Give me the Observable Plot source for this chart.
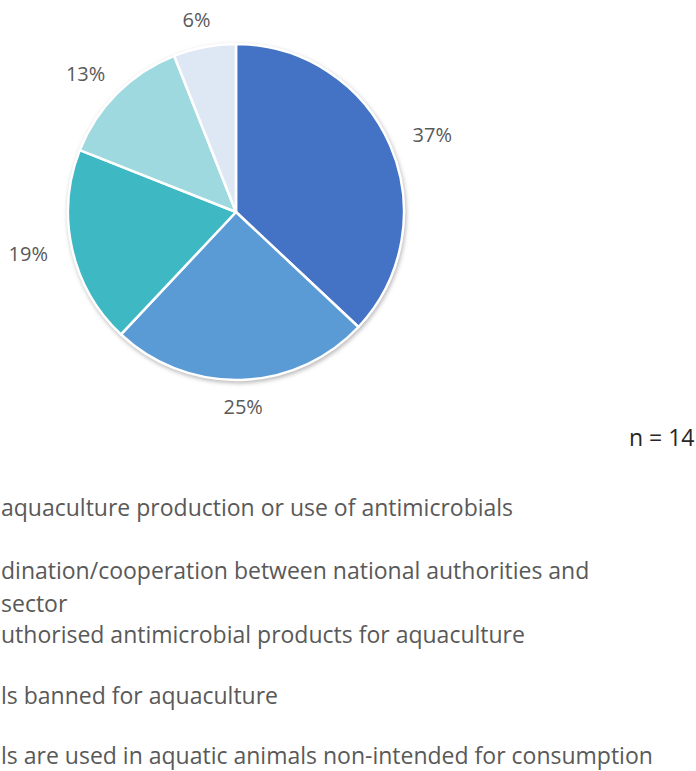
<!DOCTYPE html>
<html><head><meta charset="utf-8">
<script src="https://cdn.jsdelivr.net/npm/d3@7"></script>
<script src="https://cdn.jsdelivr.net/npm/@observablehq/plot@0.6"></script>
<style>
html,body{margin:0;background:#fff;font-family:"Open Sans",sans-serif;overflow:hidden;}
#legend{position:relative;height:301px;}
.item{position:absolute;left:1px;white-space:pre;color:#595959;font-size:23px;line-height:26px;}
</style></head><body><div id="chart"></div><div id="legend"></div>
<script>
const categories = [
  "aquaculture production or use of antimicrobials",
  "dination/cooperation between national authorities and\nsector",
  "uthorised antimicrobial products for aquaculture",
  "ls banned for aquaculture",
  "ls are used in aquatic animals non-intended for consumption"
];
const values = [37, 25, 19, 13, 6];
const labels = ["37%", "25%", "19%", "13%", "6%"];
const colors = ["#4472C4", "#5B9BD5", "#3EB9C4", "#9FD9E0", "#DEE8F5"];
const sampleSize = "n = 14";

const arcs = d3.pie().sort(null).value(d => d)(values);
const table = arcs.map((a, i) => ({
  category: categories[i], value: values[i], label: labels[i], color: colors[i],
  start: a.startAngle, end: a.endAngle, mid: (a.startAngle + a.endAngle) / 2
}));

const R = 168, CX = 236, CY = 212, W = 696, H = 470;

function pieMark(index, scales) {
  const x = scales.x, y = scales.y;
  const cx = x(0), cy = y(0), r = x(1) - x(0);
  const arc = d3.arc().innerRadius(0).outerRadius(r);
  const g = d3.create("svg:g")
    .attr("transform", `translate(${cx},${cy})`)
    .style("filter", "drop-shadow(1px 2px 2px rgba(0,0,0,0.28))");
  g.selectAll("path").data(table).join("path")
    .attr("d", d => arc({startAngle: d.start, endAngle: d.end}))
    .attr("fill", d => d.color)
    .attr("stroke", "#fff")
    .attr("stroke-width", 2.5)
    .attr("stroke-linejoin", "round");
  return g.node();
}

const chart = Plot.plot({
  width: W, height: H, margin: 0,
  style: {fontFamily: "'Open Sans', sans-serif", background: "#fff"},
  x: {domain: [-CX / R, (W - CX) / R], axis: null},
  y: {domain: [-(H - CY) / R, CY / R], axis: null},
  marks: [
    pieMark,
    Plot.text(table, {
      x: d => Math.sin(d.mid) * 1.27,
      y: d => Math.cos(d.mid) * 1.16,
      text: "label", fill: "#595959", fontSize: 20
    }),
    Plot.text([sampleSize], {
      frameAnchor: "bottom-right", text: d => d, dx: -2, dy: -25,
      fill: "#262626", fontSize: 23, textAnchor: "end"
    })
  ]
});
document.getElementById("chart").appendChild(chart);

const centers = [37, 100, 164, 225, 285];
const legend = d3.select("#legend");
legend.selectAll("div").data(table).join("div")
  .attr("class", "item")
  .style("line-height", d => d.category.includes("\n") ? "33px" : "26px")
  .style("top", (d, i) => (centers[i] - (d.category.includes("\n") ? 16.5 : 13)) + "px")
  .text(d => d.category);
</script></body></html>
